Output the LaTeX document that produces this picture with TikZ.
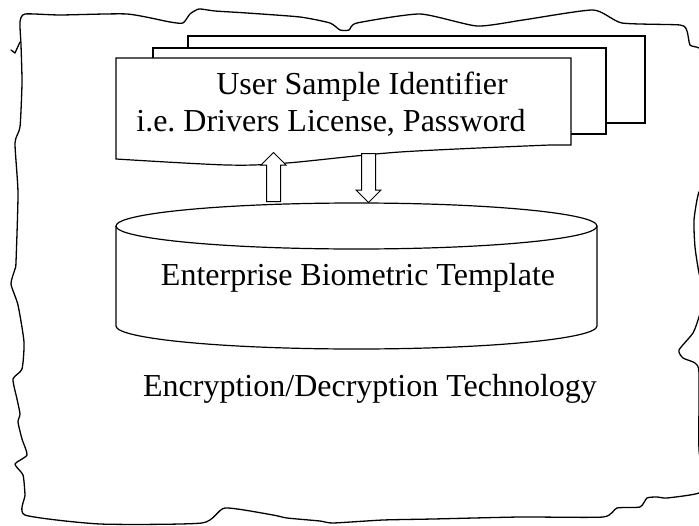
\documentclass[tikz,border=0pt]{standalone}
\usepackage{fontspec}
\setmainfont{Liberation Serif}
\usetikzlibrary{shapes.arrows}

\tikzset{
  edgeline/.style={line width=1.3pt, line join=round, line cap=round},
  page/.style={draw, fill=white, line width=1.2pt},
  lbl/.style={font=\fontsize{32}{38}\selectfont, inner sep=0pt, anchor=base},
  blockarrow/.style={single arrow, draw, fill=white, line width=1pt,
    minimum height=49pt, text height=13pt, text depth=0pt, inner sep=0pt,
    single arrow head extend=5.5pt}
}

\begin{document}
\frenchspacing
\begin{tikzpicture}[x=1pt, y=-1pt]
\useasboundingbox (0,0) rectangle (699,525);

% torn paper outline
\draw[edgeline] plot[smooth cycle, tension=0.35] coordinates {
  (21,45) (20,22) (25,14) (60,15) (127,14) (170,22) (183,23) (190,14) (199,9)
  (215,11) (247,13) (300,17) (330,23) (340,30) (349,30) (357,23) (420,14)
  (477,26) (523,20) (593,10) (622,23) (680,25) (687,31) (690,45) (699,48)
  (712,60) (712,180) (699,192) (694,220) (695,247) (699,273) (705,295)
  (699,317) (693,333) (679,350) (683,358) (695,363) (699,373) (699,450)
  (705,480) (699,493) (667,498) (657,497) (647,498) (640,507) (617,508)
  (603,517) (520,517) (433,519) (383,520) (333,523) (320,521) (287,518)
  (273,515) (225,508) (202,523) (100,524) (25,515) (25,495) (23,475)
  (15,464) (27,455) (22,439) (18,422) (20,414) (17,399) (13,379) (22,369)
  (24,342) (18,305) (11,284) (15,269) (16,262) (18,193) (15,143) (20,127)
  (22,83)};
\draw[edgeline] (20,42) -- (15,53) -- (11,50);

% stack of pages
\draw[page] (188,36) rectangle (645,123);
\draw[page] (153,48) rectangle (606,134);
\draw[page] (116,58) -- (571,58) -- (571,145)
  -- plot[smooth, tension=0.5] coordinates {(550,145) (400,152) (287,163) (227,165) (116,159)}
  -- cycle;
\node[lbl] (usi) at (362,94) {User Sample Identifier};
\node[lbl] (ids) at (331,131) {i.e. Drivers License, Password};

% template store
\draw[page] (116,226) -- (116,326)
  arc[start angle=180, end angle=0, x radius=240.5, y radius=23] -- (597,226);
\draw[page] (356.5,226) ellipse [x radius=240.5, y radius=23];
\node[lbl] (ebt) at (358,285) {Enterprise Biometric Template};

\node[blockarrow, rotate=90, anchor=tail] (up) at (273.5,202) {};
\node[blockarrow, rotate=-90, anchor=tail] (down) at (368.5,153) {};

\node[lbl] (edt) at (370,396) {Encryption/Decryption Technology};
\end{tikzpicture}
\end{document}
